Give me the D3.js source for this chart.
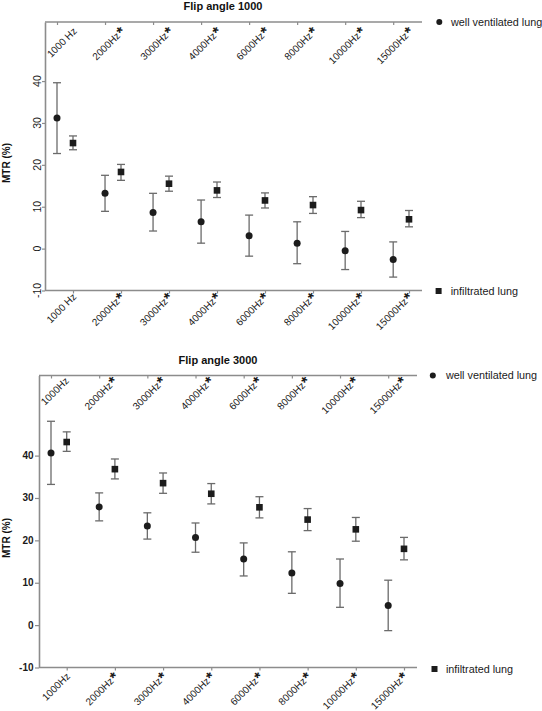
<!DOCTYPE html>
<html><head><meta charset="utf-8">
<script src="https://cdn.jsdelivr.net/npm/d3@7/dist/d3.min.js"></script>
<style>
body{margin:0;background:#fff;}
svg{display:block;font-family:"Liberation Sans",Arial,sans-serif;}
</style></head>
<body>
<script>
// ---- data ----
const freqLabels1 = ["1000 Hz","2000Hz","3000Hz","4000Hz","6000Hz","8000Hz","10000Hz","15000Hz"];
const freqLabels2 = ["1000Hz","2000Hz","3000Hz","4000Hz","6000Hz","8000Hz","10000Hz","15000Hz"];
const significant = [false,true,true,true,true,true,true,true];
const yTicks = [-10,0,10,20,30,40];
const seriesNames = ["well ventilated lung","infiltrated lung"];
const titles = ["Flip angle 1000","Flip angle 3000"];

const wellMean1 = [31.2,13.2,8.6,6.4,3.1,1.3,-0.5,-2.6];
const wellHigh1 = [39.6,17.5,13.2,11.6,8.0,6.4,4.1,1.6];
const wellLow1  = [22.7,8.9,4.2,1.3,-1.8,-3.6,-5.0,-6.8];
const infMean1  = [25.2,18.3,15.5,13.9,11.5,10.4,9.2,7.0];
const infHigh1  = [26.9,20.1,17.3,15.9,13.3,12.4,11.3,9.1];
const infLow1   = [23.6,16.3,13.7,12.2,9.7,8.4,7.4,5.2];

const wellMean2 = [40.6,27.9,23.4,20.7,15.6,12.3,9.8,4.6];
const wellHigh2 = [48.1,31.2,26.5,24.1,19.4,17.3,15.6,10.6];
const wellLow2  = [33.2,24.6,20.3,17.2,11.6,7.5,4.2,-1.3];
const infMean2  = [43.2,36.8,33.5,31.0,27.8,24.9,22.6,18.0];
const infHigh2  = [45.6,39.2,35.9,33.4,30.3,27.5,25.4,20.7];
const infLow2   = [41.0,34.5,31.1,28.6,25.3,22.3,19.8,15.4];

// ---- layout ----
const W = 542, H = 711;
const svg = d3.select("body").append("svg").attr("width", W).attr("height", H);

const panels = [
  {title: titles[0], titleX: 223, titleY: 10, labels: freqLabels1,
   left: 45, topY: 22, botY: 290.5, yMax: 54.1, axisEnd: 422,
   topRange: [57, 393.2], botRange: [73, 409],
   topLbl: [18, 7.3], botLbl: [1.5, 4.5],
   yRot: true, mtrY: 163,
   leg1: {x: 439.3, y: 22, tx: 451}, leg2: {x: 438.6, y: 291, tx: 450.7},
   well: [wellMean1, wellLow1, wellHigh1], inf: [infMean1, infLow1, infHigh1]},
  {title: titles[1], titleX: 218, titleY: 364, labels: freqLabels2,
   left: 39, topY: 375.5, botY: 667.5, yMax: 58.9, axisEnd: 417,
   topRange: [51, 388.2], botRange: [66.7, 404],
   topLbl: [16, 3.5], botLbl: [1.5, 7],
   yRot: false, mtrY: 538,
   leg1: {x: 432.8, y: 375.5, tx: 445.9}, leg2: {x: 434.5, y: 669, tx: 445.9},
   well: [wellMean2, wellLow2, wellHigh2], inf: [infMean2, infLow2, infHigh2]}
];

const axisColor = "#8c8c8c", barColor = "#6b6b6b", markColor = "#1c1c1c";
const idx = d3.range(8);

function addLabel(g, txt, star) {
  const t = g.append("text").attr("font-size", 10).attr("fill", "#1a1a1a")
    .attr("text-anchor", "end").attr("dy", "0.35em");
  t.append("tspan").text(txt);
  if (star) t.append("tspan").attr("font-size", 15.5).attr("font-weight", "bold")
    .attr("dx", 0.5).attr("dy", 2).text("*");
  return t;
}

panels.forEach(p => {
  const g = svg.append("g");
  const y = d3.scaleLinear().domain([-10, p.yMax]).range([p.botY, p.topY]);
  const xTop = d3.scalePoint().domain(idx).range(p.topRange);
  const xBot = d3.scalePoint().domain(idx).range(p.botRange);

  // title
  g.append("text").attr("x", p.titleX).attr("y", p.titleY).attr("text-anchor", "middle")
    .attr("font-size", 11).attr("font-weight", "bold").attr("fill", "#111").text(p.title);

  // left axis
  const yAxis = d3.axisLeft(y).tickValues(yTicks).tickSize(p.yRot ? 3 : 4).tickSizeOuter(0).tickFormat("");
  const ya = g.append("g").attr("transform", `translate(${p.left},0)`).call(yAxis);
  ya.select(".domain").attr("stroke", axisColor).attr("stroke-width", 1.6);
  ya.selectAll(".tick line").attr("stroke", axisColor).attr("stroke-width", 1.2);
  yTicks.forEach(v => {
    if (p.yRot) {
      g.append("text").attr("transform", `translate(${p.left - 4.5},${y(v)}) rotate(-90)`)
        .attr("text-anchor", "middle").attr("font-size", 10.5).attr("fill", "#1a1a1a").text(v);
    } else {
      g.append("text").attr("x", p.left - 5.5).attr("y", y(v)).attr("dy", "0.35em")
        .attr("text-anchor", "end").attr("font-size", 10).attr("font-weight", "bold").attr("fill", "#1a1a1a").text(v);
    }
  });
  g.append("text").attr("transform", `translate(10,${p.mtrY}) rotate(-90)`).attr("text-anchor", "middle")
    .attr("font-size", 10).attr("font-weight", "bold").attr("fill", "#111").text("MTR (%)");

  // top axis
  g.append("line").attr("x1", p.left).attr("x2", p.axisEnd).attr("y1", p.topY).attr("y2", p.topY)
    .attr("stroke", axisColor).attr("stroke-width", 1.6);
  const ta = g.append("g").attr("transform", `translate(0,${p.topY})`)
    .call(d3.axisTop(xTop).tickSize(-3).tickSizeOuter(0).tickFormat(""));
  ta.select(".domain").remove();
  ta.selectAll(".tick line").attr("stroke", axisColor).attr("stroke-width", 1.2);
  idx.forEach(i => {
    addLabel(g, p.labels[i], significant[i])
      .attr("transform", `translate(${xTop(i) + p.topLbl[0]},${p.topY + p.topLbl[1]}) rotate(-45)`);
  });

  // bottom axis
  g.append("line").attr("x1", p.left).attr("x2", p.axisEnd).attr("y1", p.botY).attr("y2", p.botY)
    .attr("stroke", axisColor).attr("stroke-width", 1.6);
  const ba = g.append("g").attr("transform", `translate(0,${p.botY})`)
    .call(d3.axisBottom(xBot).tickSize(3).tickSizeOuter(0).tickFormat(""));
  ba.select(".domain").remove();
  ba.selectAll(".tick line").attr("stroke", axisColor).attr("stroke-width", 1.2);
  idx.forEach(i => {
    addLabel(g, p.labels[i], significant[i])
      .attr("transform", `translate(${xBot(i) + p.botLbl[0]},${p.botY + p.botLbl[1]}) rotate(-45)`);
  });

  // error bars + markers
  const drawSeries = (arr, xs, shape) => {
    const [m, lo, hi] = arr;
    const cap = 4;
    idx.forEach(i => {
      const cx = xs(i);
      g.append("line").attr("x1", cx).attr("x2", cx).attr("y1", y(lo[i])).attr("y2", y(hi[i]))
        .attr("stroke", barColor).attr("stroke-width", 1.3);
      [lo[i], hi[i]].forEach(v => g.append("line").attr("x1", cx - cap).attr("x2", cx + cap)
        .attr("y1", y(v)).attr("y2", y(v)).attr("stroke", barColor).attr("stroke-width", 1.3));
      if (shape === "circle") {
        g.append("circle").attr("cx", cx).attr("cy", y(m[i])).attr("r", 3.5).attr("fill", markColor);
      } else {
        g.append("rect").attr("x", cx - 3.3).attr("y", y(m[i]) - 3.3).attr("width", 6.6).attr("height", 6.6).attr("fill", markColor);
      }
    });
  };
  drawSeries(p.well, xTop, "circle");
  drawSeries(p.inf, xBot, "square");

  // legend
  g.append("circle").attr("cx", p.leg1.x).attr("cy", p.leg1.y).attr("r", 3).attr("fill", markColor);
  g.append("text").attr("x", p.leg1.tx).attr("y", p.leg1.y).attr("dy", "0.35em").attr("font-size", 10.8)
    .attr("fill", "#1a1a1a").text(seriesNames[0]);
  g.append("rect").attr("x", p.leg2.x - 3).attr("y", p.leg2.y - 3).attr("width", 6).attr("height", 6).attr("fill", markColor);
  g.append("text").attr("x", p.leg2.tx).attr("y", p.leg2.y).attr("dy", "0.35em").attr("font-size", 10.8)
    .attr("fill", "#1a1a1a").text(seriesNames[1]);
});
</script>
</body></html>
